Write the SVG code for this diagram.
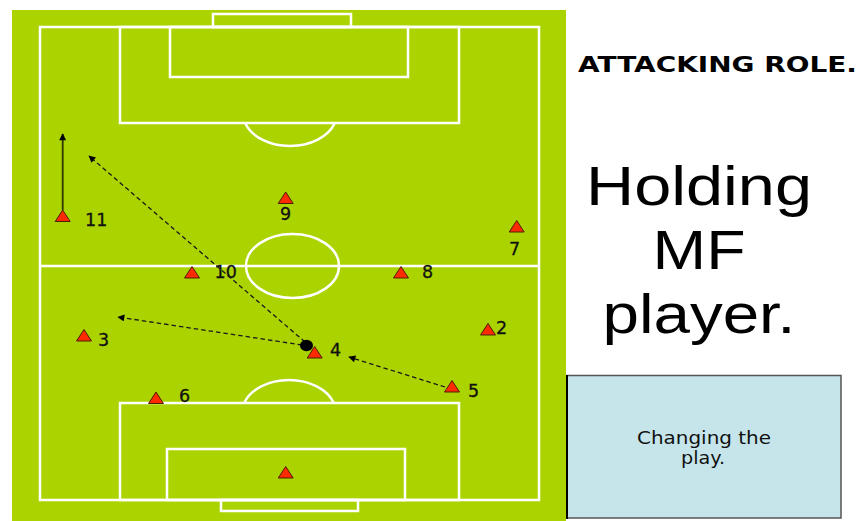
<svg xmlns="http://www.w3.org/2000/svg" width="862" height="521" viewBox="0 0 862 521">
<style>
.ln{fill:none;stroke:#ffffff;stroke-width:2.5}
.pl{fill:#ff2a00;stroke:#4a2000;stroke-width:1}
.num{font-family:"DejaVu Sans",Verdana,sans-serif;font-size:17.5px;fill:#111;stroke:#111;stroke-width:0.3}
.dash{fill:none;stroke:#1a1a1a;stroke-width:1.3;stroke-dasharray:4.5 3;marker-end:url(#ah)}
.big{font-family:"Liberation Sans",Arial,sans-serif;font-size:55px;fill:#000;text-anchor:middle}
.note{font-family:"DejaVu Sans",Verdana,sans-serif;font-size:18px;fill:#111;text-anchor:middle}
</style>
<defs>
<path id="tri" d="M0,0 L7.5,11.5 L-7.5,11.5 Z"/>
<marker id="ah" viewBox="0 0 10 10" refX="9" refY="5" markerWidth="8" markerHeight="7" markerUnits="userSpaceOnUse" orient="auto">
<path d="M0,0 L10,5 L0,10 Z" fill="#000"/>
</marker>
</defs>
<rect width="862" height="521" fill="#ffffff"/>
<g id="pitch">
<rect x="12" y="10" width="554" height="511" fill="#aad300"/>
<rect class="ln" x="40" y="27" width="499" height="473"/>
<rect class="ln" x="213" y="14" width="138" height="13"/>
<rect class="ln" x="170" y="27" width="238" height="50"/>
<rect class="ln" x="120" y="27" width="339" height="96"/>
<path class="ln" d="M245.2,123 A47,33 0 0 0 334.8,123"/>
<line class="ln" x1="40" y1="266" x2="539" y2="266"/>
<ellipse class="ln" cx="292.5" cy="266" rx="46.5" ry="32"/>
<rect class="ln" x="120" y="403" width="339" height="97"/>
<rect class="ln" x="167" y="449" width="238" height="51"/>
<rect class="ln" x="221" y="500" width="137" height="11"/>
<path class="ln" d="M244.2,403 A47,33 0 0 1 333.8,403"/>
</g>
<g id="connectors">
<line x1="62.7" y1="210" x2="62.7" y2="134" stroke="#2e3800" stroke-width="1.8" marker-end="url(#ah)"/>
<line class="dash" x1="305" y1="342" x2="89" y2="156"/>
<line class="dash" x1="302" y1="345" x2="118" y2="317"/>
<line class="dash" x1="445" y1="387" x2="349" y2="357"/>
</g>
<g id="ball"><ellipse cx="306.5" cy="345.5" rx="6.5" ry="5.8" fill="#000"/></g>
<g id="p11"><use href="#tri" class="pl" x="62.7" y="210"/><text class="num" x="85" y="226">11</text></g>
<g id="p9"><use href="#tri" class="pl" x="285.7" y="192"/><text class="num" x="285.5" y="220" text-anchor="middle">9</text></g>
<g id="p10"><use href="#tri" class="pl" x="192" y="266.5"/><text class="num" x="214.5" y="278">10</text></g>
<g id="p8"><use href="#tri" class="pl" x="401" y="266.5"/><text class="num" x="422" y="278">8</text></g>
<g id="p7"><use href="#tri" class="pl" x="516.7" y="220.5"/><text class="num" x="509" y="255">7</text></g>
<g id="p2"><use href="#tri" class="pl" x="488" y="323.5"/><text class="num" x="496" y="334">2</text></g>
<g id="p4"><use href="#tri" class="pl" x="314.7" y="346.5"/><text class="num" x="330" y="356">4</text></g>
<g id="p5"><use href="#tri" class="pl" x="452" y="380.5"/><text class="num" x="468" y="397">5</text></g>
<g id="p3"><use href="#tri" class="pl" x="84" y="329.5"/><text class="num" x="98" y="346">3</text></g>
<g id="p6"><use href="#tri" class="pl" x="156" y="392"/><text class="num" x="179" y="402">6</text></g>
<g id="gk"><use href="#tri" class="pl" x="285.7" y="466.5"/></g>
<g id="title"><text x="578" y="72" font-family="'DejaVu Sans',Verdana,sans-serif" font-weight="bold" font-size="21" textLength="279" lengthAdjust="spacingAndGlyphs" fill="#000">ATTACKING ROLE.</text></g>
<g id="heading">
<text class="big" x="699" y="205" textLength="226" lengthAdjust="spacingAndGlyphs">Holding</text>
<text class="big" x="699" y="269" textLength="93" lengthAdjust="spacingAndGlyphs">MF</text>
<text class="big" x="699" y="333" textLength="193" lengthAdjust="spacingAndGlyphs">player.</text>
</g>
<g id="note">
<rect x="567" y="375.5" width="274" height="142.5" fill="#c6e5ea" stroke="#555" stroke-width="1.5"/>
<line x1="567" y1="375" x2="567" y2="519" stroke="#000" stroke-width="2"/>
<text class="note" x="704" y="444" textLength="134" lengthAdjust="spacingAndGlyphs">Changing the</text>
<text class="note" x="703" y="464" textLength="44" lengthAdjust="spacingAndGlyphs">play.</text>
</g>
</svg>
